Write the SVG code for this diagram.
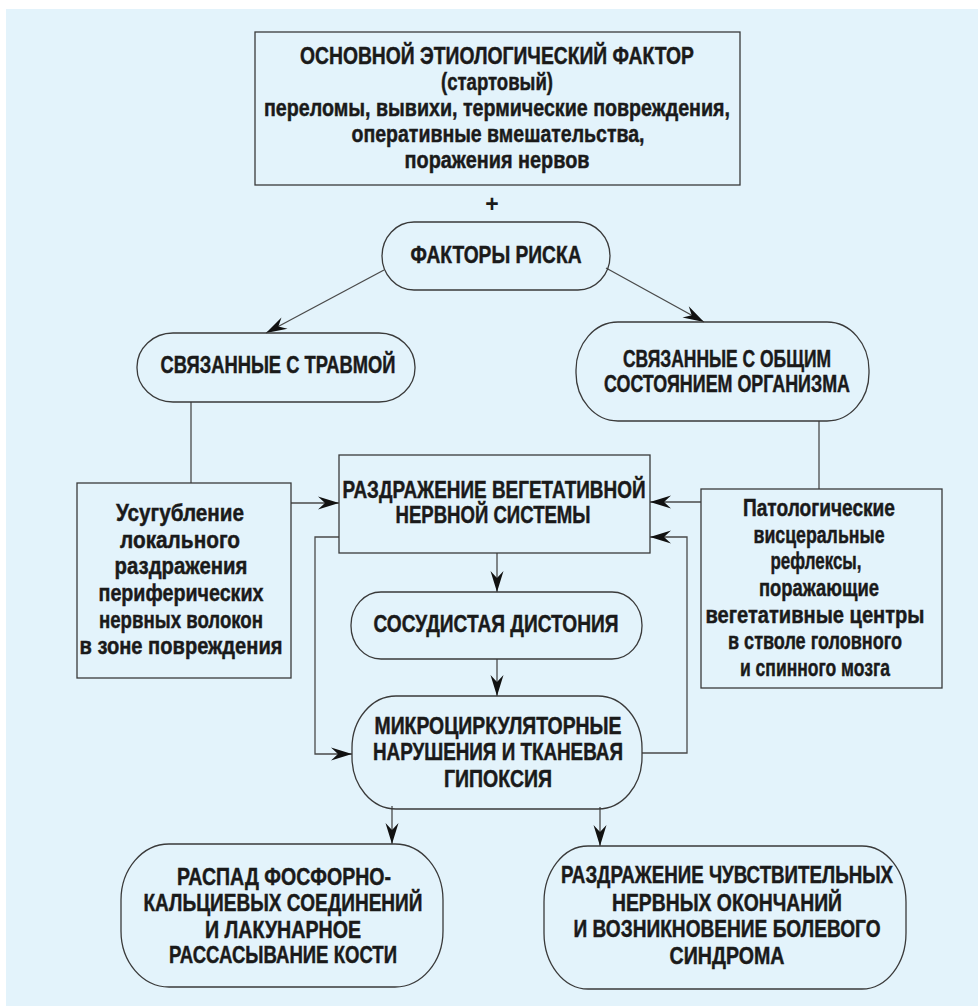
<svg xmlns="http://www.w3.org/2000/svg" width="978" height="1006" viewBox="0 0 978 1006">
<style>
.bx{fill:none;stroke:#3a3a3a;stroke-width:1.3}
.t{font-family:"Liberation Sans Narrow","Liberation Sans","DejaVu Sans Condensed",sans-serif;font-weight:bold;font-size:23px;fill:#1a1a1a;stroke:#1a1a1a;stroke-width:0.45;text-anchor:middle}
.c{fill:none;stroke:#4a4a4a;stroke-width:1.3}
</style>
<defs>
<marker id="ah" markerUnits="userSpaceOnUse" markerWidth="24" markerHeight="16" viewBox="-22 -8 24 16" refX="0" refY="0" orient="auto">
<path d="M0,0 L-21,-6.5 L-14,0 L-21,6.5 Z" fill="#111"/>
</marker>
</defs>
<rect x="0" y="0" width="978" height="1006" fill="#ffffff"/>
<rect x="6" y="9" width="972" height="997" fill="#e3f3fb"/>

<g id="connectors">
<line class="c" x1="384" y1="270" x2="266" y2="333" marker-end="url(#ah)"/>
<line class="c" x1="606" y1="268" x2="704" y2="322" marker-end="url(#ah)"/>
<line class="c" x1="191" y1="402" x2="191" y2="483"/>
<line class="c" x1="819" y1="421" x2="819" y2="489"/>
<line class="c" x1="291" y1="503" x2="339" y2="503" marker-end="url(#ah)"/>
<line class="c" x1="701" y1="502" x2="650" y2="502" marker-end="url(#ah)"/>
<line class="c" x1="497" y1="553" x2="497" y2="592" marker-end="url(#ah)"/>
<line class="c" x1="497" y1="659" x2="497" y2="696" marker-end="url(#ah)"/>
<polyline class="c" points="339,537 315,537 315,754 352,754" marker-end="url(#ah)"/>
<polyline class="c" points="642,753 687,753 687,537 650,537" marker-end="url(#ah)"/>
<line class="c" x1="392" y1="806" x2="392" y2="844" marker-end="url(#ah)"/>
<line class="c" x1="600" y1="807" x2="600" y2="846" marker-end="url(#ah)"/>
</g>

<g id="main-factor">
<rect class="bx" x="255" y="32" width="485" height="153"/>
<text class="t" x="497" y="64" textLength="394" lengthAdjust="spacingAndGlyphs">ОСНОВНОЙ ЭТИОЛОГИЧЕСКИЙ ФАКТОР</text>
<text class="t" x="497" y="90" textLength="112" lengthAdjust="spacingAndGlyphs">(стартовый)</text>
<text class="t" x="497" y="116" textLength="466" lengthAdjust="spacingAndGlyphs">переломы, вывихи, термические повреждения,</text>
<text class="t" x="498" y="142" textLength="293" lengthAdjust="spacingAndGlyphs">оперативные вмешательства,</text>
<text class="t" x="497" y="168" textLength="185" lengthAdjust="spacingAndGlyphs">поражения нервов</text>
</g>

<g id="plus">
<text class="t" x="492" y="212" style="stroke-width:0">+</text>
</g>

<g id="risk-factors">
<rect class="bx" x="382" y="222" width="228" height="68" rx="32" ry="34"/>
<text class="t" x="496" y="263" textLength="171" lengthAdjust="spacingAndGlyphs">ФАКТОРЫ РИСКА</text>
</g>

<g id="trauma">
<rect class="bx" x="137" y="333" width="278" height="69" rx="36" ry="34"/>
<text class="t" x="278" y="373" textLength="235" lengthAdjust="spacingAndGlyphs">СВЯЗАННЫЕ С ТРАВМОЙ</text>
</g>

<g id="general">
<rect class="bx" x="576" y="322" width="293" height="99" rx="42" ry="48"/>
<text class="t" x="727" y="367" textLength="208" lengthAdjust="spacingAndGlyphs">СВЯЗАННЫЕ С ОБЩИМ</text>
<text class="t" x="727" y="392" textLength="246" lengthAdjust="spacingAndGlyphs">СОСТОЯНИЕМ ОРГАНИЗМА</text>
</g>

<g id="local">
<rect class="bx" x="77" y="483" width="214" height="195"/>
<text class="t" x="180" y="521" textLength="128" lengthAdjust="spacingAndGlyphs">Усугубление</text>
<text class="t" x="180" y="548" textLength="120" lengthAdjust="spacingAndGlyphs">локального</text>
<text class="t" x="181" y="574" textLength="133" lengthAdjust="spacingAndGlyphs">раздражения</text>
<text class="t" x="181" y="601" textLength="165" lengthAdjust="spacingAndGlyphs">периферических</text>
<text class="t" x="181" y="628" textLength="164" lengthAdjust="spacingAndGlyphs">нервных волокон</text>
<text class="t" x="181" y="654" textLength="203" lengthAdjust="spacingAndGlyphs">в зоне повреждения</text>
</g>

<g id="vegetative">
<rect class="bx" x="339" y="455" width="311" height="98"/>
<text class="t" x="494" y="498" textLength="303" lengthAdjust="spacingAndGlyphs">РАЗДРАЖЕНИЕ ВЕГЕТАТИВНОЙ</text>
<text class="t" x="493" y="523" textLength="195" lengthAdjust="spacingAndGlyphs">НЕРВНОЙ СИСТЕМЫ</text>
</g>

<g id="visceral">
<rect class="bx" x="701" y="489" width="241" height="199"/>
<text class="t" x="819" y="516" textLength="152" lengthAdjust="spacingAndGlyphs">Патологические</text>
<text class="t" x="819" y="543" textLength="131" lengthAdjust="spacingAndGlyphs">висцеральные</text>
<text class="t" x="816" y="569" textLength="91" lengthAdjust="spacingAndGlyphs">рефлексы,</text>
<text class="t" x="819" y="596" textLength="120" lengthAdjust="spacingAndGlyphs">поражающие</text>
<text class="t" x="815" y="623" textLength="219" lengthAdjust="spacingAndGlyphs">вегетативные центры</text>
<text class="t" x="815" y="649" textLength="174" lengthAdjust="spacingAndGlyphs">в стволе головного</text>
<text class="t" x="815" y="676" textLength="150" lengthAdjust="spacingAndGlyphs">и спинного мозга</text>
</g>

<g id="dystonia">
<rect class="bx" x="351" y="592" width="291" height="67" rx="30" ry="33"/>
<text class="t" x="496" y="632" textLength="245" lengthAdjust="spacingAndGlyphs">СОСУДИСТАЯ ДИСТОНИЯ</text>
</g>

<g id="microcirculation">
<rect class="bx" x="352" y="696" width="290" height="113" rx="44" ry="52"/>
<text class="t" x="498" y="734" textLength="247" lengthAdjust="spacingAndGlyphs">МИКРОЦИРКУЛЯТОРНЫЕ</text>
<text class="t" x="498" y="760" textLength="250" lengthAdjust="spacingAndGlyphs">НАРУШЕНИЯ И ТКАНЕВАЯ</text>
<text class="t" x="498" y="787" textLength="108" lengthAdjust="spacingAndGlyphs">ГИПОКСИЯ</text>
</g>

<g id="bone">
<rect class="bx" x="121" y="844" width="322" height="143" rx="48" ry="56"/>
<text class="t" x="284" y="885" textLength="214" lengthAdjust="spacingAndGlyphs">РАСПАД ФОСФОРНО-</text>
<text class="t" x="283" y="911" textLength="279" lengthAdjust="spacingAndGlyphs">КАЛЬЦИЕВЫХ СОЕДИНЕНИЙ</text>
<text class="t" x="283" y="938" textLength="156" lengthAdjust="spacingAndGlyphs">И ЛАКУНАРНОЕ</text>
<text class="t" x="283" y="963" textLength="228" lengthAdjust="spacingAndGlyphs">РАССАСЫВАНИЕ КОСТИ</text>
</g>

<g id="pain">
<rect class="bx" x="544" y="846" width="362" height="143" rx="44" ry="56"/>
<text class="t" x="727" y="883" textLength="332" lengthAdjust="spacingAndGlyphs">РАЗДРАЖЕНИЕ ЧУВСТВИТЕЛЬНЫХ</text>
<text class="t" x="727" y="911" textLength="230" lengthAdjust="spacingAndGlyphs">НЕРВНЫХ ОКОНЧАНИЙ</text>
<text class="t" x="727" y="937" textLength="307" lengthAdjust="spacingAndGlyphs">И ВОЗНИКНОВЕНИЕ БОЛЕВОГО</text>
<text class="t" x="727" y="964" textLength="115" lengthAdjust="spacingAndGlyphs">СИНДРОМА</text>
</g>
</svg>
